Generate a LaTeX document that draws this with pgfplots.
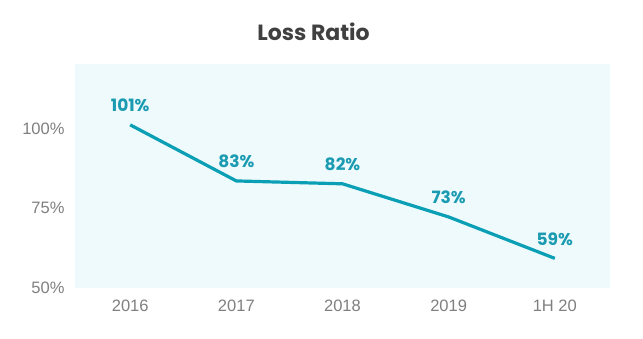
\documentclass[border=0pt]{standalone}
\usepackage{fontspec}
\setmainfont{Liberation Sans}
\newfontfamily\popp{Poppins}
\usepackage{pgfplots}
\pgfplotsset{compat=1.18}
\definecolor{bgc}{HTML}{EEFAFC}
\definecolor{linec}{HTML}{0A9FB5}
\definecolor{labc}{HTML}{1A9BB2}
\definecolor{tickc}{HTML}{7F7F7F}
\definecolor{titc}{HTML}{404040}
\begin{document}
\begin{tikzpicture}
\begin{axis}[
  scale only axis,
  width=535pt, height=224pt,
  xmin=-0.52, xmax=4.52,
  ymin=50, ymax=120.3,
  axis line style={draw=none},
  axis background/.style={fill=bgc},
  xtick={0,1,2,3,4},
  xticklabels={2016,2017,2018,2019,1H 20},
  ytick={50,75,100},
  yticklabels={50\%,75\%,100\%},
  major tick length=0pt,
  tick label style={font=\fontsize{16.5}{18}\selectfont, text=tickc},
  xticklabel style={yshift=-8pt},
  yticklabel style={xshift=-7pt},
  title={\popp\bfseries\fontsize{22}{24}\selectfont Loss Ratio},
  title style={text=titc, yshift=14pt, xshift=-29pt},
  clip=false,
  nodes near coords,
  point meta=explicit symbolic,
  every node near coord/.style={font=\popp\bfseries\fontsize{17}{19}\selectfont, text=labc, anchor=south, yshift=8pt},
]
\addplot[color=linec, line width=3.2pt, line join=round, mark=none] coordinates {
  (0,101.2) [101\%]
  (1,83.6) [83\%]
  (2,82.7) [82\%]
  (3,72.3) [73\%]
  (4,59.3) [59\%]
};
\end{axis}
\path (current axis.south west) ++(-75pt,-50pt) rectangle ++(643pt,338pt);
\end{tikzpicture}
\end{document}
